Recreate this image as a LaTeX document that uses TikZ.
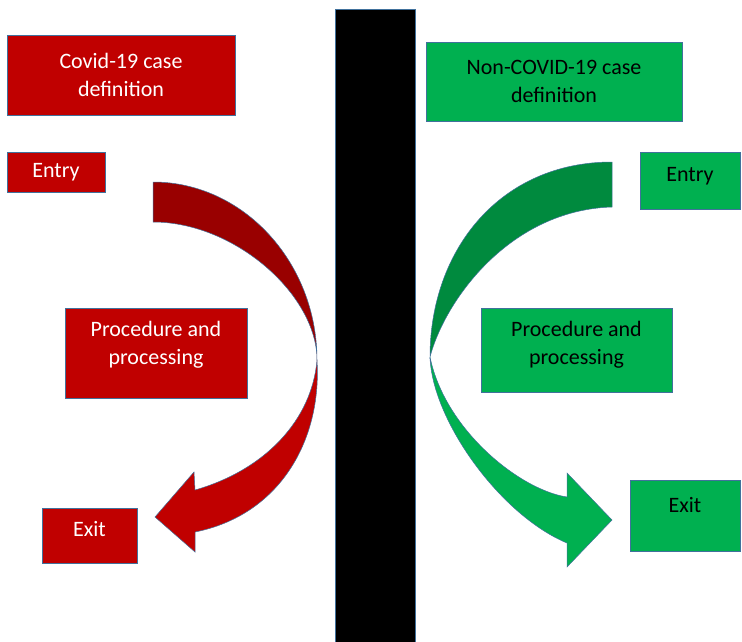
\documentclass[tikz,border=0pt]{standalone}
\usepackage{fontspec}
\setmainfont{Carlito}
\usepackage{xcolor}
\definecolor{covidred}{HTML}{C00000}
\definecolor{covidreddark}{HTML}{990000}
\definecolor{othergreen}{HTML}{00B050}
\definecolor{othergreendark}{HTML}{008A3E}
\definecolor{shapeline}{HTML}{41719C}

\begin{document}
\begin{tikzpicture}[x=1pt, y=-1pt,
    box/.style={draw=shapeline, line width=0.8pt, rectangle, inner sep=0pt, align=center, font=\fontsize{22}{28}\selectfont},
    redbox/.style={box, fill=covidred, text=white},
    greenbox/.style={box, fill=othergreen, text=black},
    arrowband/.style={draw=shapeline, line width=0.5pt}]
            \useasboundingbox (0,0) rectangle (742,641);

            % Wall
            \node[draw=shapeline, fill=black, anchor=north, minimum width=80, minimum height=640, inner sep=0pt] (wall) at (375,9) {};

            % Covid-19 side
            \node[redbox, minimum width=228, minimum height=80] (covdef) at (121,75) {Covid-19 case\\definition};
            \node[redbox, minimum width=98, minimum height=40, text depth=3pt] (coventry) at (56,172) {Entry};
            \node[redbox, minimum width=182, minimum height=90, text depth=20pt] (covproc) at (156,353) {Procedure and\\processing};
            \node[redbox, minimum width=95, minimum height=55, text depth=14pt] (covexit) at (89.5,535.5) {Exit};

            % Non-COVID-19 side
            \node[greenbox, minimum width=256, minimum height=79] (noncovdef) at (554,81.5) {Non-COVID-19 case\\definition};
            \node[greenbox, minimum width=100, minimum height=57, text depth=13pt] (noncoventry) at (690,180.5) {Entry};
            \node[greenbox, minimum width=191, minimum height=84, text depth=14pt] (noncovproc) at (576.5,350) {Procedure and\\processing};
            \node[greenbox, minimum width=110, minimum height=71, text depth=21pt] (noncovexit) at (685,515.5) {Exit};

            % Covid-19 arrow
            \filldraw[arrowband, fill=covidreddark] (153,182) -- (153,222)
                .. controls (235,222) and (317,295) .. (317,360)
                .. controls (317,262) and (243,182) .. (153,182) -- cycle;
            \filldraw[arrowband, fill=covidred] (317,360)
                .. controls (322,440) and (280,515) .. (195,532)
                -- (195,552) -- (155,517) -- (194,472) -- (195,490)
                .. controls (265,470) and (312,420) .. (317,360) -- cycle;

            % Non-COVID-19 arrow
            \filldraw[arrowband, fill=othergreendark] (612,162) -- (612,207)
                .. controls (510,210) and (445,300) .. (430,357)
                .. controls (430,250) and (500,162) .. (612,162) -- cycle;
            \filldraw[arrowband, fill=othergreen] (430,357)
                .. controls (432,420) and (500,515) .. (567,543)
                -- (567,567) -- (612,520) -- (567,473) -- (567,497)
                .. controls (520,490) and (445,430) .. (430,357) -- cycle;
        \end{tikzpicture}
\end{document}
